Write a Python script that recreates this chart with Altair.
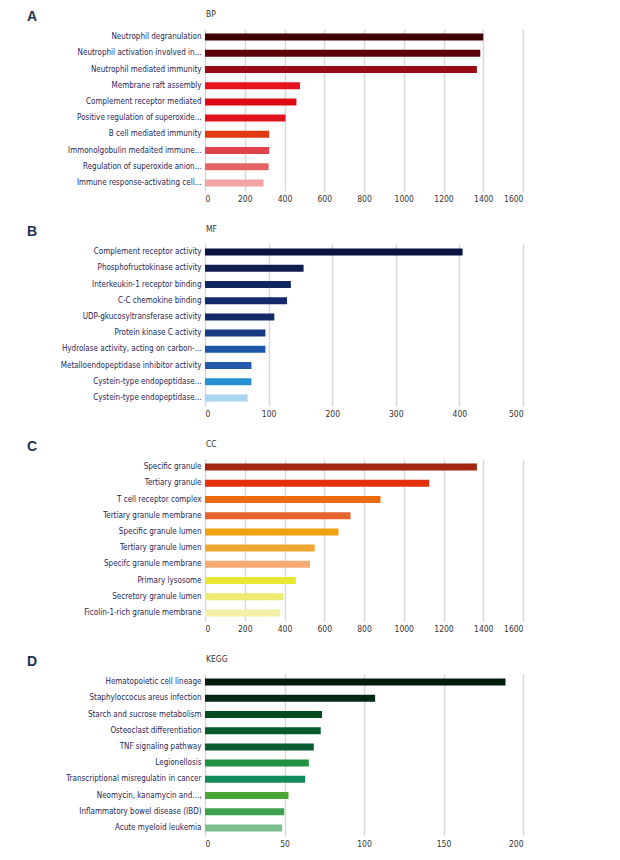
import altair as alt
import pandas as pd

FONT = "DejaVu Sans Condensed, Liberation Sans Narrow, sans-serif"

bp_terms = ["Neutrophil degranulation", "Neutrophil activation involved in...",
            "Neutrophil mediated immunity", "Membrane raft assembly",
            "Complement receptor mediated", "Positive regulation of superoxide...",
            "B cell mediated immunity", "Immonolgobulin medaited immune...",
            "Regulation of superoxide anion...", "Immune response-activating cell..."]
bp_values = [1400, 1385, 1368, 478, 460, 405, 323, 323, 320, 295]
bp_colors = ["#3f0005", "#5a0309", "#9a0c14", "#e5141c", "#dd0a14",
             "#e0131c", "#e03a12", "#e04448", "#e46464", "#f2a4a4"]

mf_terms = ["Complement receptor activity", "Phosphofructokinase activity",
            "Interkeukin-1 receptor binding", "C-C chemokine binding",
            "UDP-gkucosyltransferase activity", "Protein kinase C activity",
            "Hydrolase activity, acting on carbon-...", "Metalloendopeptidase inhibitor activity",
            "Cystein-type endopeptidase...", "Cystein-type endopeptidase... "]
mf_values = [405, 155, 135, 129, 109, 95, 95, 73, 73, 67]
mf_colors = ["#0a1440", "#0f1f52", "#112560", "#13296a", "#132a66",
             "#173a80", "#1d56a6", "#2458aa", "#2590d2", "#a9d5f2"]

cc_terms = ["Specific granule", "Tertiary granule", "T cell receptor complex",
            "Tertiary granule membrane", "Specific granule lumen", "Tertiary granule lumen",
            "Specifc granule membrane", "Primary lysosome", "Secretory granule lumen",
            "Ficolin-1-rich granule membrane"]
cc_values = [1368, 1128, 883, 732, 672, 552, 528, 457, 395, 378]
cc_colors = ["#a3260e", "#e3300c", "#e96a06", "#e6622e", "#efa20c",
             "#f1a632", "#f4aa70", "#e6e633", "#eeea6e", "#f3f0a6"]

kegg_terms = ["Hematopoietic cell lineage", "Staphyloccocus areus infection",
              "Starch and sucrose metabolism", "Osteoclast differentiation",
              "TNF signaling pathway", "Legionellosis",
              "Transcriptional misregulatin in cancer", "Neomycin, kanamycin and...,",
              "Inflammatory bowel disease (IBD)", "Acute myeloid leukemia"]
kegg_values = [189, 107, 73.6, 72.8, 68.4, 65.3, 63, 52.5, 49.8, 48.5]
kegg_colors = ["#021c0c", "#042814", "#054a20", "#075a2a", "#085e30",
               "#1f9040", "#138a5a", "#4aa636", "#3da250", "#7abf8c"]

panels = [
    ("A", "BP", bp_terms, bp_values, bp_colors, 1600, 200),
    ("B", "MF", mf_terms, mf_values, mf_colors, 500, 100),
    ("C", "CC", cc_terms, cc_values, cc_colors, 1600, 200),
    ("D", "KEGG", kegg_terms, kegg_values, kegg_colors, 200, 50),
]


def make_panel(letter, title, terms, values, colors, xmax, step):
    df = pd.DataFrame({"term": terms, "value": values, "color": colors})
    ticks = list(range(0, xmax + 1, step))
    bars = alt.Chart(df).mark_bar(height=7).encode(
        x=alt.X("value:Q", scale=alt.Scale(domain=[0, xmax], nice=False),
                axis=alt.Axis(values=ticks, format="d", title=None, grid=True,
                              gridColor="#d9d9d9", gridWidth=1.5, domain=False,
                              ticks=False, labelPadding=3, labelFont=FONT,
                              labelFontSize=8.5, labelColor="#333333")),
        y=alt.Y("term:N", sort=terms,
                axis=alt.Axis(title=None, domain=False, ticks=False, grid=False,
                              labelPadding=4, labelFont=FONT, labelFontSize=8,
                              labelColor="#262659", labelLimit=220)),
        color=alt.Color("color:N", scale=None),
    )
    txt = pd.DataFrame({"letter": [letter], "title": [title]})
    lab = alt.Chart(txt).mark_text(
        align="left", baseline="middle", font="Liberation Sans, Arial, sans-serif",
        fontSize=14, fontWeight="bold", color="#1f3050"
    ).encode(text="letter:N", x=alt.value(-178), y=alt.value(-12))
    ttl = alt.Chart(txt).mark_text(
        align="left", baseline="middle", font=FONT, fontSize=8.5, color="#333333"
    ).encode(text="title:N", x=alt.value(1), y=alt.value(-15))
    return alt.layer(bars, lab, ttl).properties(width=318, height=162)


chart = alt.vconcat(*[make_panel(*p) for p in panels], spacing=22).properties(
    padding={"left": 19, "top": 2, "right": 5, "bottom": 0}
).configure_view(stroke=None)

chart.save("out.html", embed_options={"renderer": "svg", "actions": False})
